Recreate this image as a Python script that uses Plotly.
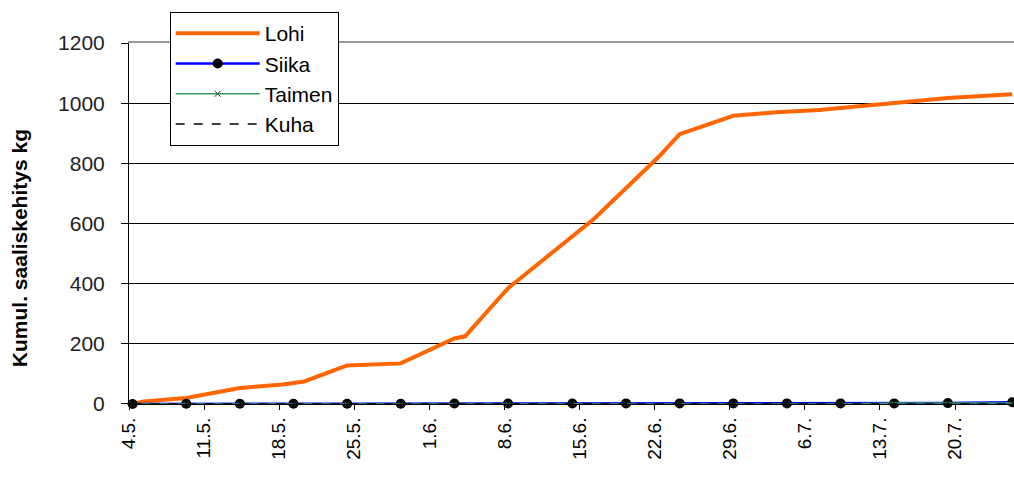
import plotly.graph_objects as go
import datetime as dt

# ---------------- data ----------------
start = dt.datetime(2004, 5, 4)

# Lohi (salmon) cumulative catch: day offsets from 4.5. and values (kg)
lohi_days = [0, 1, 5, 10, 14, 16, 20, 25, 30, 31, 35, 43, 49, 51, 56, 60, 64, 69, 76, 82]
lohi_vals = [0, 8, 20, 53, 65, 75, 128, 135, 218, 225, 385, 615, 820, 897, 958, 970, 977, 994, 1017, 1030]

# Siika / Taimen / Kuha sampled every ~5 days
other_days = [0, 5, 10, 15, 20, 25, 30, 35, 41, 46, 51, 56, 61, 66, 71, 76, 82]
siika_vals = [0, 1, 1, 1, 1, 1, 1.5, 1.5, 1.5, 2, 2, 2, 2, 2, 2, 3, 6]
taimen_vals = [0, 0, 0, 0, 0, 0, 0, 0, 0, 0, 0, 0, 0, 0, 3, 3, 3]
kuha_vals = [0] * 17

tick_days = [0, 7, 14, 21, 28, 35, 42, 49, 56, 63, 70, 77]
tick_text = ["4.5.", "11.5.", "18.5.", "25.5.", "1.6.", "8.6.", "15.6.", "22.6.",
             "29.6.", "6.7.", "13.7.", "20.7."]
y_ticks = [0, 200, 400, 600, 800, 1000, 1200]
y_title = "Kumul. saaliskehitys kg"


def to_dates(days, hours=0):
    return [start + dt.timedelta(days=d, hours=hours) for d in days]


POINT_HOURS = 8  # data points sit a little after the day's tick mark (date axis)
FONT = "Liberation Sans, Arial, sans-serif"

fig = go.Figure()
fig.add_trace(go.Scatter(x=to_dates(lohi_days, POINT_HOURS), y=lohi_vals, name="Lohi", mode="lines",
                         line=dict(color="#FF6600", width=4), cliponaxis=False))
fig.add_trace(go.Scatter(x=to_dates(other_days, POINT_HOURS), y=siika_vals, name="Siika",
                         mode="lines+markers", cliponaxis=False,
                         line=dict(color="#0000FF", width=2.5),
                         marker=dict(symbol="circle", size=10, color="black")))
fig.add_trace(go.Scatter(x=to_dates(other_days, POINT_HOURS), y=taimen_vals, name="Taimen",
                         mode="lines+markers", cliponaxis=False,
                         line=dict(color="#339966", width=1.5),
                         marker=dict(symbol="x-thin", size=6, color="#333333",
                                     line=dict(width=1, color="#333333"))))
fig.add_trace(go.Scatter(x=to_dates(other_days, POINT_HOURS), y=kuha_vals, name="Kuha", mode="lines",
                         cliponaxis=False,
                         line=dict(color="black", width=1.5, dash="dash")))
# invisible trace so the top border axis is rendered
fig.add_trace(go.Scatter(x=to_dates([0]), y=[0], xaxis="x2", mode="markers",
                         marker=dict(opacity=0), showlegend=False, hoverinfo="skip"))

x_end = start + dt.timedelta(days=82.5)

fig.update_layout(
    width=1014, height=487,
    margin=dict(l=129, r=0, t=12, b=83),
    paper_bgcolor="white", plot_bgcolor="white",
    font=dict(family=FONT, size=16, color="black"),
    showlegend=True,
    legend=dict(x=0.046, y=1.0, xanchor="left", yanchor="top",
                bgcolor="white", bordercolor="black", borderwidth=1,
                font=dict(family=FONT, size=21, color="black"),
                itemwidth=84, tracegroupgap=0),
    xaxis=dict(type="date", range=[start, x_end],
               tickvals=to_dates(tick_days), ticktext=tick_text, tickangle=-90,
               tickfont=dict(family=FONT, size=19, color="black"),
               ticks="outside", ticklen=5, tickcolor="black",
               showline=True, linecolor="black", linewidth=1,
               showgrid=False, zeroline=False, automargin=False, anchor="y"),
    xaxis2=dict(overlaying="x", side="top", matches="x", anchor="y", showline=True,
                linecolor="#999999", linewidth=2, showticklabels=False,
                ticks="", showgrid=False, zeroline=False, automargin=False),
    yaxis=dict(range=[0, 1200], tickvals=y_ticks, domain=[0, 0.9209],
               tickfont=dict(family=FONT, size=21, color="#222222"),
               ticks="outside", ticklen=7, tickcolor="black", ticklabelstandoff=12,
               showline=True, linecolor="black", linewidth=1,
               showgrid=True, gridcolor="black", gridwidth=1,
               zeroline=False, automargin=False),
    annotations=[dict(text="<b>" + y_title + "</b>", textangle=-90,
                      xref="paper", yref="paper", x=-0.123, y=0.398,
                      xanchor="center", yanchor="middle", showarrow=False,
                      font=dict(family=FONT, size=21, color="black"))],
)

fig.write_html("out.html", config={"displayModeBar": False},
               post_script="document.body.style.margin='0';document.body.style.padding='0';")
